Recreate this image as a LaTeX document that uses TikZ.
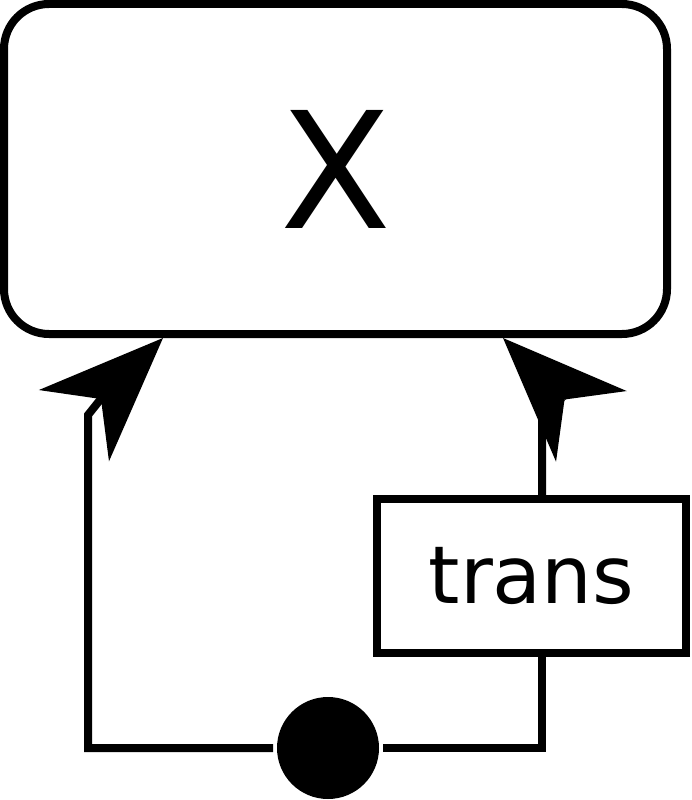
\documentclass[tikz,border=0pt]{standalone}
\usepackage{fontspec}
\setmainfont{DejaVu Sans}
\usetikzlibrary{arrows.meta}
\begin{document}
\begin{tikzpicture}[x=1pt,y=-1pt,line width=8pt,
  roundbox/.style={draw,line width=8pt,rounded corners=45pt,inner sep=0pt,
    minimum width=663pt,minimum height=330pt,font=\fontsize{162}{170}\selectfont},
  squarebox/.style={draw,line width=8pt,inner sep=0pt,
    minimum width=309pt,minimum height=154pt,font=\fontsize{80}{90}\selectfont},
  dotnode/.style={circle,fill=black,inner sep=0pt,minimum size=102pt},
  arr/.style={-{Stealth[length=125pt,width=100pt,inset=38pt,line width=0pt]}}]
\useasboundingbox (0,0) rectangle (692,800);
\node[roundbox] (X) at (335.5,169) {X};
\node[squarebox] (trans) at (531.5,576) {trans};
\node[dotnode] (dot) at (328,748) {};
\coordinate (tipL) at (163,338);
\coordinate (tipR) at (503,338);
\coordinate (lc) at (88,748);
\coordinate (rc) at (542,748);
\coordinate (notchR) at (565,400);
\draw[arr] (dot.west) -- (lc) -- (88,415) -- (100,400) -- (tipL);
\draw (dot.east) -- (rc) -- (rc |- trans.south);
\draw[arr] (rc |- trans.north) -- (542,422) -- (555,411) (notchR) -- (tipR);
\end{tikzpicture}
\end{document}
